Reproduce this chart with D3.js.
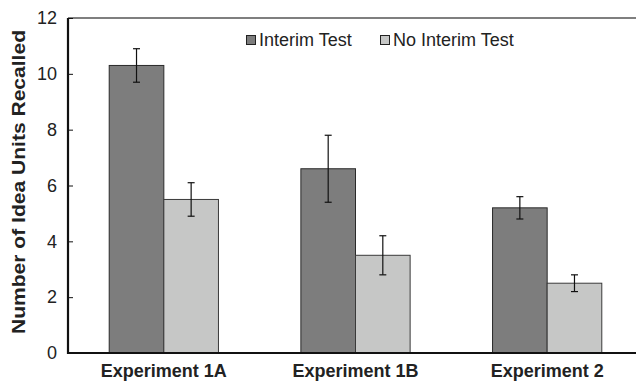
<!DOCTYPE html>
<html lang="en">
<head>
<meta charset="UTF-8">
<title>Idea units recalled</title>
<script src="https://cdn.jsdelivr.net/npm/d3@7/dist/d3.min.js"></script>
<style>
  body { margin: 0; background: #fff; }
  text { font-family: "Liberation Sans", Arial, Helvetica, sans-serif; fill: #222; }
</style>
</head>
<body>
<script>
    // Daten
    let experiments = ["Experiment 1A", "Experiment 1B", "Experiment 2"];
    let interimMean = [10.3, 6.6, 5.2];
    let interimErr = [0.6, 1.2, 0.4];
    let noInterimMean = [5.5, 3.5, 2.5];
    let noInterimErr = [0.6, 0.7, 0.3];
    let yTicks = [0, 2, 4, 6, 8, 10, 12];
    let seriesNames = ["Interim Test", "No Interim Test"];

    let W = 636, H = 383;
    let plot = { left: 68, top: 18, bottom: 353, right: 643 }; // rechter Rand liegt ausserhalb des Fensters

    let svg = d3.select("body").append("svg")
        .attr("width", W)
        .attr("height", H);

    // Skalen
    let x = d3.scaleBand().domain(experiments).range([plot.left, plot.right]);
    let barW = x.bandwidth() * 0.285;
    let y = d3.scaleLinear().domain([0, 12]).range([plot.bottom, plot.top]);

    let colors = ["#7d7d7d", "#c6c7c6"];
    let strokes = ["#2a2a2a", "#3a3a3a"];

    let series = [
        { name: seriesNames[0], mean: interimMean, err: interimErr },
        { name: seriesNames[1], mean: noInterimMean, err: noInterimErr }
    ];

    // Balken
    series.forEach(function (s, si) {
        let g = svg.append("g");
        g.selectAll("rect")
            .data(experiments)
            .enter()
            .append("rect")
            .attr("x", function (d) { return x(d) + x.bandwidth() / 2 + (si - 1) * barW; })
            .attr("y", function (d, i) { return y(s.mean[i]); })
            .attr("width", barW)
            .attr("height", function (d, i) { return y(0) - y(s.mean[i]); })
            .attr("fill", colors[si])
            .attr("stroke", strokes[si])
            .attr("stroke-width", 1);

        // Fehlerbalken
        let cx = function (d) { return x(d) + x.bandwidth() / 2 + (si - 0.5) * barW; };
        let eb = g.selectAll("g.err")
            .data(experiments)
            .enter()
            .append("g")
            .attr("class", "err")
            .attr("stroke", "#111")
            .attr("stroke-width", 1.2);
        eb.append("line")
            .attr("x1", cx).attr("x2", cx)
            .attr("y1", function (d, i) { return y(s.mean[i] + s.err[i]); })
            .attr("y2", function (d, i) { return y(s.mean[i] - s.err[i]); });
        eb.append("line")
            .attr("x1", function (d) { return cx(d) - 3.5; })
            .attr("x2", function (d) { return cx(d) + 3.5; })
            .attr("y1", function (d, i) { return y(s.mean[i] + s.err[i]); })
            .attr("y2", function (d, i) { return y(s.mean[i] + s.err[i]); });
        eb.append("line")
            .attr("x1", function (d) { return cx(d) - 3.5; })
            .attr("x2", function (d) { return cx(d) + 3.5; })
            .attr("y1", function (d, i) { return y(s.mean[i] - s.err[i]); })
            .attr("y2", function (d, i) { return y(s.mean[i] - s.err[i]); });
    });

    // obere Rahmenlinie
    svg.append("line")
        .attr("x1", plot.left).attr("x2", W)
        .attr("y1", y(12)).attr("y2", y(12))
        .attr("stroke", "#555")
        .attr("stroke-width", 1.5);

    // y-Achse
    let yAxis = svg.append("g")
        .attr("transform", "translate(" + plot.left + ",0)")
        .call(d3.axisLeft(y).tickValues(yTicks).tickSize(-5).tickPadding(11).tickFormat(d3.format("d")));
    yAxis.select(".domain").remove();
    yAxis.selectAll(".tick line").attr("stroke", "#111").attr("stroke-width", 1);
    yAxis.selectAll(".tick text")
        .attr("font-size", "18px")
        .attr("fill", "#222")
        .style("font-family", "'Liberation Sans', Arial, sans-serif");

    svg.append("line")
        .attr("x1", plot.left).attr("x2", plot.left)
        .attr("y1", y(12)).attr("y2", y(0) + 1)
        .attr("stroke", "#111")
        .attr("stroke-width", 2.2);

    // x-Achse
    svg.append("line")
        .attr("x1", plot.left - 1).attr("x2", W)
        .attr("y1", y(0)).attr("y2", y(0))
        .attr("stroke", "#111")
        .attr("stroke-width", 2.2);

    svg.append("g").selectAll("text")
        .data(experiments)
        .enter()
        .append("text")
        .attr("x", function (d) { return x(d) + x.bandwidth() / 2; })
        .attr("y", 377)
        .attr("text-anchor", "middle")
        .attr("font-size", "18px")
        .attr("font-weight", "bold")
        .text(function (d) { return d; });

    // Achsenbeschriftung y
    svg.append("text")
        .attr("transform", "translate(25,182) rotate(-90)")
        .attr("text-anchor", "middle")
        .attr("font-size", "18px")
        .attr("font-weight", "bold")
        .attr("textLength", 304)
        .attr("lengthAdjust", "spacingAndGlyphs")
        .text("Number of Idea Units Recalled");

    // Legende
    let legendX = [246, 380];
    series.forEach(function (s, si) {
        svg.append("rect")
            .attr("x", legendX[si] + 0.5)
            .attr("y", 35.5)
            .attr("width", 9)
            .attr("height", 9)
            .attr("fill", colors[si])
            .attr("stroke", "#222")
            .attr("stroke-width", 1);
        svg.append("text")
            .attr("x", legendX[si] + 13)
            .attr("y", 46)
            .attr("font-size", "18px")
            .text(s.name);
    });
</script>
</body>
</html>
